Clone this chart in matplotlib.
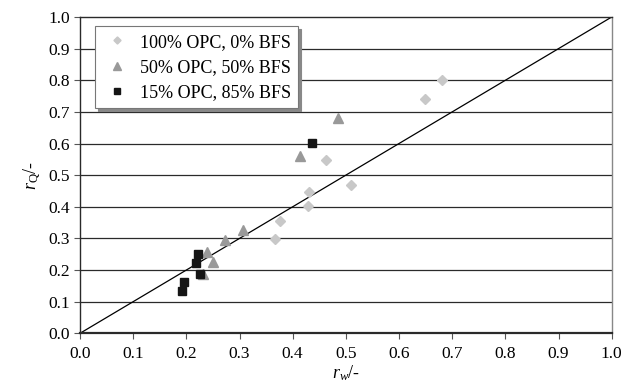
import numpy as np
import matplotlib
matplotlib.use("Agg")
import matplotlib.pyplot as plt

plt.rcParams['font.family'] = ['Liberation Serif', 'DejaVu Serif']
plt.rcParams['mathtext.fontset'] = 'custom'
plt.rcParams['mathtext.rm'] = 'Liberation Serif'
plt.rcParams['mathtext.it'] = 'Liberation Serif:italic'

# 100% OPC, 0% BFS
opc100_x = [0.680, 0.648, 0.463, 0.509, 0.430, 0.428, 0.377, 0.366]
opc100_y = [0.802, 0.740, 0.547, 0.468, 0.446, 0.403, 0.356, 0.297]
# 50% OPC, 50% BFS
opc50_x = [0.486, 0.414, 0.3075, 0.272, 0.239, 0.250, 0.231]
opc50_y = [0.680, 0.559, 0.328, 0.294, 0.258, 0.225, 0.186]
# 15% OPC, 85% BFS
opc15_x = [0.436, 0.222, 0.219, 0.225, 0.195, 0.192]
opc15_y = [0.602, 0.250, 0.223, 0.189, 0.162, 0.133]

ticks = np.round(np.arange(0, 1.01, 0.1), 1)

fig = plt.figure(figsize=(6.23, 3.86), dpi=100)
ax = fig.add_axes([80 / 623, 1 - 333.3 / 386, 531.7 / 623, 316.3 / 386])

# horizontal gridlines
for t in ticks[1:-1]:
    ax.axhline(t, color='#2a2a2a', lw=0.9, zorder=1)

# 1:1 line
ax.plot([0, 1], [0, 1], color='black', lw=0.9, zorder=2)

ax.plot(opc100_x, opc100_y, 'D', ms=4.8, color='#c8c8c8', mec='#c8c8c8',
        ls='none', label='100% OPC, 0% BFS', zorder=3)
ax.plot(opc50_x, opc50_y, '^', ms=7.5, color='#999999', mec='#999999',
        ls='none', label='50% OPC, 50% BFS', zorder=3)
ax.plot(opc15_x, opc15_y, 's', ms=5.8, color='#151515', mec='#151515',
        ls='none', label='15% OPC, 85% BFS', zorder=4)

ax.set_xlim(0, 1)
ax.set_ylim(0, 1)
ax.set_xticks(ticks)
ax.set_yticks(ticks)
ax.set_xticklabels([f'{t:.1f}' for t in ticks])
ax.set_yticklabels([f'{t:.1f}' for t in ticks])
ax.tick_params(axis='both', direction='out', length=4, width=0.8,
               labelsize=12.5, color='#555555')
ax.tick_params(axis='x', pad=5)
ax.tick_params(axis='y', pad=3)

for side in ['left', 'bottom', 'top']:
    ax.spines[side].set_color('#2a2a2a')
    ax.spines[side].set_linewidth(1.0)
ax.spines['right'].set_color('#888888')
ax.spines['right'].set_linewidth(1.0)
ax.spines['bottom'].set_linewidth(1.6)

ax.set_xlabel(r'$r_{w}$/-', fontsize=13, labelpad=1)
ax.set_ylabel(r'$r_{\mathrm{Q}}$/-', fontsize=13, labelpad=4)

leg = ax.legend(loc='upper left', bbox_to_anchor=(0.028, 0.97), borderaxespad=0,
                fontsize=13, numpoints=1, markerscale=0.75, handlelength=1.6,
                handletextpad=0.5, labelspacing=0.45, borderpad=0.4,
                fancybox=False, shadow={'color': '#888888', 'alpha': 1},
                framealpha=1, edgecolor='#777777')
leg.get_frame().set_linewidth(0.8)

fig.savefig('out.png', dpi=100)
